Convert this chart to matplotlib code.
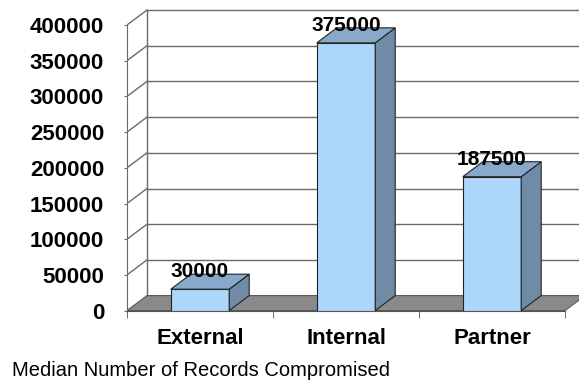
import numpy as np
import matplotlib
matplotlib.use("Agg")
import matplotlib.pyplot as plt
from matplotlib.patches import Polygon

plt.rcParams['font.family'] = ['Liberation Sans', 'DejaVu Sans']

# data
categories = ['External', 'Internal', 'Partner']
records = [30000, 375000, 187500]
yticks = [0, 50000, 100000, 150000, 200000, 250000, 300000, 350000, 400000]
title = 'Median Number of Records Compromised'

# colours of the fake 3d bars
c_front = '#acd6fc'
c_top = '#88a9c9'
c_side = '#6f8ba6'
c_floor = '#8a8a8a'
c_grid = '#6a6a6a'

W, H = 579, 381
fig = plt.figure(figsize=(W / 100, H / 100), dpi=100)
fig.patch.set_facecolor('white')

# axes: front axis at x=127px, zero at y=310.6px, 35.7px per 50000
y0px = 310.6
ax = fig.add_axes([127 / W, (H - y0px) / H, (W - 127) / W, y0px / H])
px_x = 146.0                      # pixels per category
px_y = 35.7 / 50000               # pixels per unit
ax.set_xlim(-0.5, -0.5 + (W - 127) / px_x)
ax.set_ylim(0, y0px / px_y)

dx = 20 / px_x                    # depth offset
dy = 15 / px_y
hw = 0.2                          # half bar width
xl = -0.5
xr = len(categories) - 0.5
xmax = ax.get_xlim()[1]

# back wall grid and left wall
for v in yticks[1:]:
    ax.plot([xl + dx, xmax], [v + dy, v + dy], color=c_grid, lw=1, zorder=1)
    ax.plot([xl, xl + dx], [v, v + dy], color=c_grid, lw=1, zorder=1)
ax.plot([xl + dx, xl + dx], [dy, yticks[-1] + dy], color=c_grid, lw=1, zorder=1)

# floor
floor = Polygon([(xl, 0), (xr, 0), (xr + dx, dy), (xl + dx, dy)],
                closed=True, facecolor=c_floor, edgecolor='#555555', lw=0.8,
                zorder=2, clip_on=False)
ax.add_patch(floor)

# bars
x = np.arange(len(categories))
ax.bar(x, records, width=2 * hw, color=c_front, edgecolor='#222222', lw=0.8, zorder=3)
for xi, v in zip(x, records):
    side = Polygon([(xi + hw, 0), (xi + hw + dx, dy), (xi + hw + dx, v + dy), (xi + hw, v)],
                   closed=True, facecolor=c_side, edgecolor='#222222', lw=0.8, zorder=3)
    top = Polygon([(xi - hw, v), (xi + hw, v), (xi + hw + dx, v + dy), (xi - hw + dx, v + dy)],
                  closed=True, facecolor=c_top, edgecolor='#222222', lw=0.8, zorder=3)
    ax.add_patch(side)
    ax.add_patch(top)
    ax.text(xi, v + dy - 4000, str(v), ha='center', va='baseline',
            fontsize=15, fontweight='bold', zorder=5)

# axes styling
for s in ['top', 'right']:
    ax.spines[s].set_visible(False)
ax.spines['left'].set_bounds(0, yticks[-1])
ax.spines['left'].set_color(c_grid)
ax.spines['bottom'].set_bounds(xl, xr)
ax.spines['bottom'].set_color('#555555')
ax.set_facecolor('none')

ax.set_yticks(yticks)
ax.set_yticklabels([str(t) for t in yticks], fontsize=16, fontweight='bold')
ax.tick_params(axis='y', length=2.5, color=c_grid, pad=14)

ax.set_xticks(x)
ax.set_xticklabels(categories, fontsize=16, fontweight='bold')
ax.set_xticks(np.arange(len(categories) + 1) - 0.5, minor=True)
ax.tick_params(axis='x', which='major', length=0, pad=12.5)
ax.tick_params(axis='x', which='minor', length=5, color='#555555')

fig.text(12 / W, (H - 370) / H, title, fontsize=14.5, va='center', ha='left')

fig.savefig('out.png', dpi=100)
